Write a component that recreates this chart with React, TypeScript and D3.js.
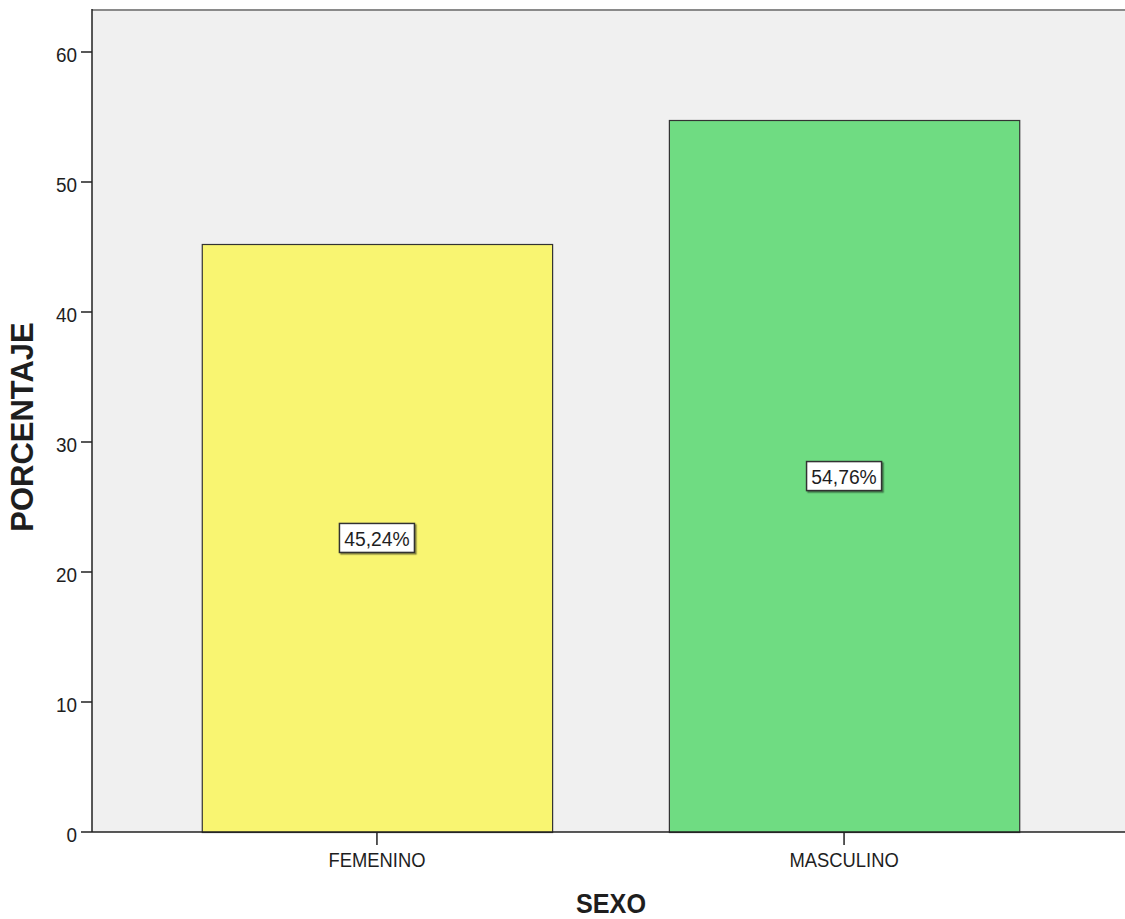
import React from "react";
import * as d3 from "d3";

// Distribución por sexo (porcentaje)
const categories: string[] = ["FEMENINO", "MASCULINO"];
const percentages: number[] = [45.24, 54.76];
const valueLabels: string[] = ["45,24%", "54,76%"];
const barColors: string[] = ["#f9f571", "#6fdc82"];
const yTicks: number[] = [0, 10, 20, 30, 40, 50, 60];

const W = 1125;
const H = 919;
const plotLeft = 92;
const plotTop = 10;
const plotBottom = 832;
const plotRight = 1129;

// Text drawn slightly condensed horizontally
function NarrowText(props: {
  x: number;
  y: number;
  sx: number;
  size: number;
  anchor: "start" | "middle" | "end";
  weight?: string;
  children: React.ReactNode;
}) {
  return (
    <text
      transform={`translate(${props.x},${props.y}) scale(${props.sx},1)`}
      textAnchor={props.anchor}
      fontSize={props.size}
      fontWeight={props.weight ?? "normal"}
      fill="#1e1e1e"
    >
      {props.children}
    </text>
  );
}

export default function App() {
  const y = d3.scaleLinear().domain([0, 60]).range([plotBottom, 52]);
  const x = d3
    .scaleBand<string>()
    .domain(categories)
    .range([plotLeft, plotRight])
    .paddingInner(0.25)
    .paddingOuter(0.235);

  const font = "Arial, 'Liberation Sans', sans-serif";

  return (
    <svg
      width={W}
      height={H}
      style={{ position: "absolute", left: 0, top: 0, background: "#fff" }}
      fontFamily={font}
    >
      <defs>
        <filter id="lblShadow" x="-10%" y="-10%" width="130%" height="140%">
          <feDropShadow dx="1.5" dy="1.5" stdDeviation="0.6" floodColor="#000" floodOpacity="0.45" />
        </filter>
      </defs>

      {/* plot background */}
      <rect x={plotLeft} y={plotTop} width={plotRight - plotLeft} height={plotBottom - plotTop} fill="#f0f0f0" />
      <line x1={plotLeft} x2={W} y1={plotTop} y2={plotTop} stroke="#8a8a8a" strokeWidth={2} />

      {/* bars */}
      {categories.map((c, i) => (
        <rect
          key={c}
          x={x(c)! + 0.5}
          y={Math.round(y(percentages[i])) + 0.5}
          width={x.bandwidth()}
          height={plotBottom - Math.round(y(percentages[i]))}
          fill={barColors[i]}
          stroke="#333"
          strokeWidth={1.2}
        />
      ))}

      {/* axes */}
      <line x1={plotLeft} x2={plotLeft} y1={plotTop - 1} y2={plotBottom} stroke="#222" strokeWidth={1.5} />
      <line x1={plotLeft} x2={W} y1={plotBottom} y2={plotBottom} stroke="#222" strokeWidth={1.5} />

      {yTicks.map((t) => (
        <g key={t}>
          <line x1={plotLeft - 11} x2={plotLeft} y1={y(t)} y2={y(t)} stroke="#222" strokeWidth={1.5} />
          <NarrowText x={77} y={y(t) + 10} sx={0.9} size={21} anchor="end">
            {t}
          </NarrowText>
        </g>
      ))}

      {categories.map((c) => {
        const cx = x(c)! + x.bandwidth() / 2;
        return (
          <g key={c}>
            <line x1={cx} x2={cx} y1={plotBottom} y2={plotBottom + 13} stroke="#222" strokeWidth={1.5} />
            <NarrowText x={cx} y={867} sx={0.92} size={20} anchor="middle">
              {c}
            </NarrowText>
          </g>
        );
      })}

      {/* value labels */}
      {categories.map((c, i) => {
        const cx = x(c)! + x.bandwidth() / 2;
        const cy = y(percentages[i] / 2);
        const bw = 75;
        const bh = 29;
        return (
          <g key={c}>
            <rect
              x={cx - bw / 2}
              y={cy - bh / 2}
              width={bw}
              height={bh}
              fill="#fff"
              stroke="#333"
              strokeWidth={1.5}
              filter="url(#lblShadow)"
            />
            <NarrowText x={cx} y={cy + 8} sx={0.92} size={21} anchor="middle">
              {valueLabels[i]}
            </NarrowText>
          </g>
        );
      })}

      {/* axis titles */}
      <NarrowText x={611} y={913} sx={0.9} size={28} anchor="middle" weight="bold">
        SEXO
      </NarrowText>
      <text
        transform={`translate(33, 427) rotate(-90)`}
        textAnchor="middle"
        fontSize={31}
        fontWeight="bold"
        fill="#1e1e1e"
      >
        PORCENTAJE
      </text>
    </svg>
  );
}
